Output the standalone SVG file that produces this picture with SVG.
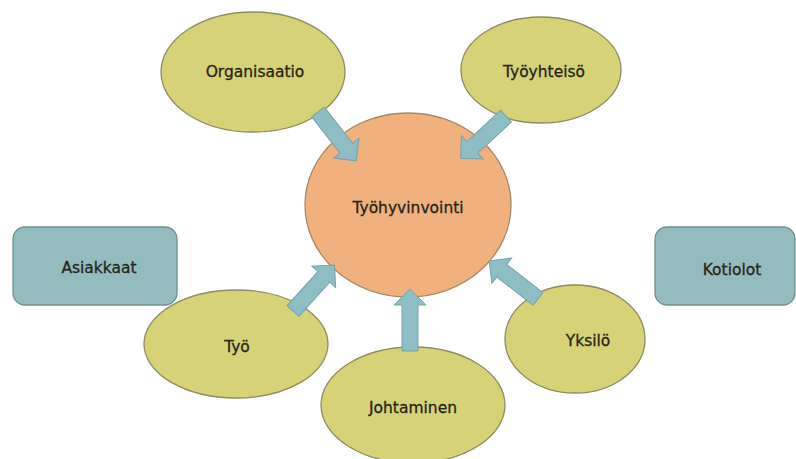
<svg xmlns="http://www.w3.org/2000/svg" width="796" height="459" viewBox="0 0 796 459">
<style>
.ell{fill:#d6d277;stroke:#8e8c62;stroke-width:1.3}
.hub{fill:#f1b17f;stroke:#a48a6c;stroke-width:1.3}
.box{fill:#94bcbf;stroke:#71908f;stroke-width:1.3}
.arr{fill:#8fbdc4;stroke:#78a2a8;stroke-width:1}
text{font-family:"DejaVu Sans","Liberation Sans",sans-serif;font-size:15.5px;fill:#26261a;text-anchor:middle;dominant-baseline:central;stroke:#26261a;stroke-width:0.3}
</style>
<defs>
<path id="arrow" d="M0,-8 L46,-8 L46,-16 L62,0 L46,16 L46,8 L0,8 Z"/>
</defs>
<rect width="796" height="459" fill="#ffffff"/>
<g id="organisaatio"><ellipse class="ell" cx="253" cy="72" rx="92" ry="60"/><text x="255" y="72">Organisaatio</text></g>
<g id="tyoyhteiso"><ellipse class="ell" cx="541" cy="70" rx="80" ry="53"/><text x="544" y="72">Työyhteisö</text></g>
<g id="asiakkaat"><rect class="box" x="13" y="227" width="164" height="78" rx="12"/><text x="99" y="268">Asiakkaat</text></g>
<g id="kotiolot"><rect class="box" x="655" y="227" width="140" height="78" rx="12"/><text x="732" y="270">Kotiolot</text></g>
<g id="tyo"><ellipse class="ell" cx="236" cy="344" rx="92" ry="54"/><text x="237" y="347">Työ</text></g>
<g id="johtaminen"><ellipse class="ell" cx="413" cy="405" rx="92" ry="58"/><text x="413" y="408">Johtaminen</text></g>
<g id="yksilo"><ellipse class="ell" cx="575" cy="339" rx="70" ry="54"/><text x="588" y="341">Yksilö</text></g>
<g id="tyohyvinvointi"><ellipse class="hub" cx="408" cy="205" rx="103" ry="92"/><text x="408" y="208">Työhyvinvointi</text></g>
<g id="connectors">
<use href="#arrow" class="arr" transform="translate(318,112) rotate(52)"/>
<use href="#arrow" class="arr" transform="translate(506,116) rotate(137)"/>
<use href="#arrow" class="arr" transform="translate(293,311) rotate(-48)"/>
<use href="#arrow" class="arr" transform="translate(410,351) rotate(-90)"/>
<use href="#arrow" class="arr" transform="translate(538,299) rotate(-142)"/>
</g>
</svg>
